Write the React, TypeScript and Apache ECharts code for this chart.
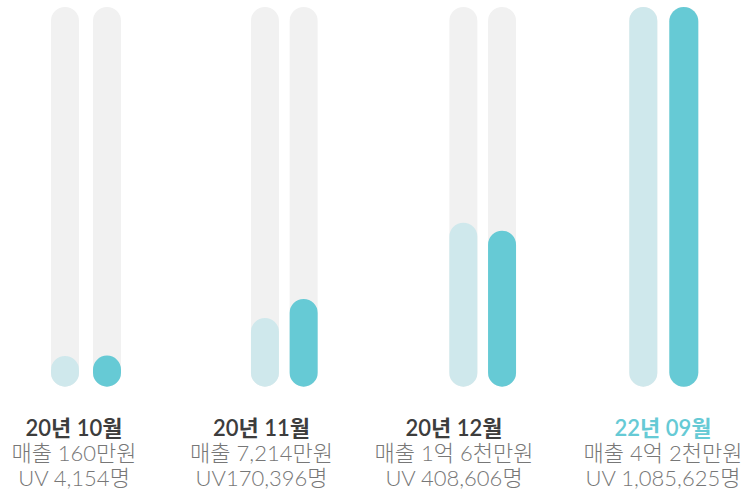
import React, { useEffect, useRef } from "react";
import * as echarts from "echarts";

const periods = ["20년 10월", "20년 11월", "20년 12월", "22년 09월"];
const salesLabels = ["매출 160만원", "매출 7,214만원", "매출 1억 6천만원", "매출 4억 2천만원"];
const uvLabels = ["UV 4,154명", "UV170,396명", "UV 408,606명", "UV 1,085,625명"];
// bar heights, as percent of the full track
const lightValues = [8.1, 18.1, 43.2, 100];
const darkValues = [8.2, 23.1, 41.1, 100];
const highlightIndex = 3;

// layout (pixels)
const groupCenters = [86, 284.3, 482.7, 663.8];
const groupGaps = [14, 10.7, 10.7, 12];
const darkWidths = [28, 28, 28, 29];
const labelCenters = [74, 261.5, 454, 663];

const LIGHT = "#cfe8ec";
const DARK = "#66cad5";
const TRACK = "#f1f1f1";
const FONT = "Lato, 'Noto Sans CJK KR', 'Noto Sans', sans-serif";

export default function App() {
  const ref = useRef<HTMLDivElement>(null);
  useEffect(() => {
    document.body.style.margin = "0";
    const chart = echarts.init(ref.current!, null, { renderer: "svg" });
    const grids: any[] = [];
    const xAxes: any[] = [];
    const yAxes: any[] = [];
    const series: any[] = [];
    const graphics: any[] = [];
    periods.forEach((p, i) => {
      grids.push({ left: groupCenters[i] - 50, width: 100, top: 7, bottom: 103.3 });
      xAxes.push({ type: "category", gridIndex: i, data: [p], show: false });
      yAxes.push({ type: "value", gridIndex: i, min: 0, max: 100, show: false });
      const bg = { color: TRACK, borderRadius: 14 };
      series.push({
        type: "bar",
        xAxisIndex: i,
        yAxisIndex: i,
        data: [lightValues[i]],
        barWidth: 28,
        barGap: (groupGaps[i] / 28) * 100 + "%",
        showBackground: true,
        backgroundStyle: bg,
        itemStyle: { color: LIGHT, borderRadius: 14 },
        silent: true,
      });
      series.push({
        type: "bar",
        xAxisIndex: i,
        yAxisIndex: i,
        data: [darkValues[i]],
        barWidth: darkWidths[i],
        barGap: (groupGaps[i] / 28) * 100 + "%",
        showBackground: true,
        backgroundStyle: bg,
        itemStyle: { color: DARK, borderRadius: 14.5 },
        silent: true,
      });
      graphics.push({
        type: "text",
        x: labelCenters[i],
        y: 452.5,
        style: {
          text: `{t|${p}}\n{s|${salesLabels[i]}}\n{s|${uvLabels[i]}}`,
          align: "center",
          verticalAlign: "middle",
          lineHeight: 25,
          rich: {
            t: {
              fontSize: 22,
              fontWeight: 600,
              fontFamily: FONT,
              fill: i === highlightIndex ? DARK : "#3d3d3d",
              lineHeight: 25,
              align: "center",
            },
            s: {
              fontSize: 22,
              fontWeight: 300,
              fontFamily: FONT,
              fill: "#777777",
              lineHeight: 25,
              align: "center",
            },
          },
        },
      });
    });
    chart.setOption({
      animation: false,
      grid: grids,
      xAxis: xAxes,
      yAxis: yAxes,
      series,
      graphic: graphics,
    });
    return () => chart.dispose();
  }, []);
  return <div ref={ref} style={{ width: 749, height: 490 }} />;
}
